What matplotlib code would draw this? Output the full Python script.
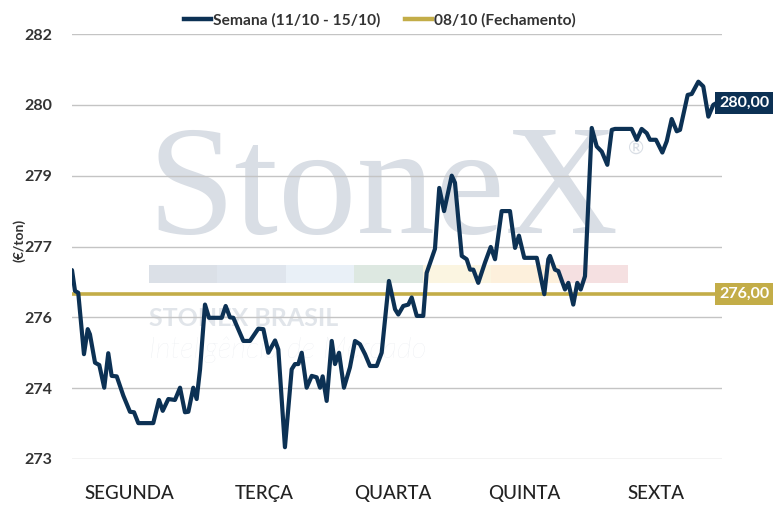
import matplotlib
matplotlib.use("Agg")
import matplotlib.pyplot as plt
from matplotlib.lines import Line2D
from matplotlib.patches import Rectangle
import matplotlib.transforms as mtransforms

plt.rcParams['font.family'] = ['Lato', 'DejaVu Sans']

# ---------------- data ----------------
days = ['SEGUNDA', 'TERÇA', 'QUARTA', 'QUINTA', 'SEXTA']
day_tick_pos = [0.44, 1.48, 2.47, 3.48, 4.49]

y_ticks = [273, 274.5, 276, 277.5, 279, 280.5, 282]
y_tick_labels = ['273', '274', '276', '277', '279', '280', '282']

# time in fractional days since Monday open
time = [0.00, 0.023, 0.048, 0.092, 0.121, 0.138, 0.177, 0.21, 0.248, 0.279,
        0.305, 0.344, 0.395, 0.446, 0.477, 0.51, 0.625, 0.669, 0.698, 0.741,
        0.792, 0.831, 0.869, 0.895, 0.933, 0.959, 0.985, 1.023, 1.054, 1.152,
        1.182, 1.215, 1.241,
        1.318, 1.369, 1.433, 1.472, 1.51, 1.562, 1.587, 1.638, 1.69, 1.715,
        1.741, 1.767, 1.805, 1.844, 1.882, 1.908, 1.928, 1.959, 1.998, 2.023,
        2.054, 2.092, 2.138, 2.177, 2.215, 2.254, 2.292, 2.344, 2.382, 2.438,
        2.485, 2.51, 2.548, 2.587, 2.613, 2.652, 2.702, 2.728, 2.792, 2.825,
        2.862, 2.921, 2.946, 2.998, 3.036, 3.062, 3.087, 3.125, 3.177, 3.221,
        3.254, 3.305, 3.369, 3.408, 3.438, 3.479, 3.575, 3.633, 3.664,
        3.677, 3.715, 3.741, 3.792, 3.818, 3.856, 3.887, 3.913, 3.946, 3.998,
        4.036, 4.075, 4.118, 4.152, 4.177, 4.305, 4.344, 4.382, 4.421, 4.446,
        4.492, 4.541, 4.575, 4.613, 4.652, 4.677, 4.736, 4.767, 4.818, 4.856,
        4.895, 4.933, 4.959]

price = [277.00, 276.56, 276.52, 275.22, 275.75, 275.64, 275.04, 274.99, 274.51, 275.24,
         274.76, 274.75, 274.34, 274.00, 273.99, 273.76, 273.76, 274.25, 274.02, 274.27,
         274.25, 274.51, 273.99, 274.00, 274.51, 274.27, 274.90, 276.27, 275.99, 275.99,
         276.24, 276.00, 275.99,
         275.50, 275.50, 275.76, 275.75, 275.25, 275.51, 275.32, 273.25, 274.90, 275.01,
         275.01, 275.25, 274.51, 274.76, 274.73, 274.51, 274.75, 274.23, 275.50, 275.01,
         275.25, 274.51, 274.94, 275.50, 275.43, 275.22, 274.97, 274.97, 275.25, 276.77,
         276.17, 276.06, 276.24, 276.27, 276.42, 276.03, 276.03, 276.94, 277.45, 278.74,
         278.25, 279.00, 278.85, 277.30, 277.23, 277.01, 277.01, 276.73, 277.16, 277.49,
         277.23, 278.25, 278.25, 277.47, 277.73, 277.26, 277.26, 276.49, 277.23,
         277.30, 277.01, 276.98, 276.59, 276.73, 276.27, 276.73, 276.59, 276.87, 280.01,
         279.62, 279.51, 279.23, 279.97, 279.99, 279.99, 279.76, 279.99, 279.90, 279.76,
         279.76, 279.49, 279.73, 280.20, 279.94, 279.97, 280.71, 280.73, 280.99, 280.89,
         280.25, 280.50, 280.54]

close_prev = 276.5
close_label = '276,00'
last_label = '280,00'
series_names = ['Semana (11/10 - 15/10)', '08/10 (Fechamento)']

NAVY = '#0c3154'
GOLD = '#c3ad48'

# ---------------- figure ----------------
W, H = 773, 513
fig = plt.figure(figsize=(W / 100, H / 100), dpi=100)
ax = fig.add_axes([72 / W, 1 - 459 / H, (722 - 72) / W, (459 - 34) / H])
ax.set_facecolor('none')
ax.set_zorder(2)

# watermark (decorative, behind the axes)
fig.text(147 / W, 1 - 233 / H, 'StoneX', fontsize=113, color='#d9dee5',
         family='Liberation Serif', ha='left', va='baseline', zorder=0)
fig.text(636 / W, 1 - 148 / H, '®', fontsize=14, color='#d9dee5', ha='center', va='center', zorder=0)
strip_cols = ['#dbe0e7', '#dfe5ed', '#e9f0f7', '#dde8e1', '#fbf5e1', '#fdf0dc', '#f5e0e1']
x0, sw = 149, 68.4
for i, c in enumerate(strip_cols):
    fig.patches.append(Rectangle(((x0 + i * sw) / W, 1 - 283 / H), sw / W, 18 / H,
                                 transform=fig.transFigure, facecolor=c, edgecolor='none', zorder=0))
fig.text(149 / W, 1 - 318 / H, 'STONEX BRASIL', fontsize=18, color='#e1e5ea',
         fontweight='bold', ha='left', va='center', zorder=0)
fig.text(149 / W, 1 - 350 / H, 'Inteligência de Mercado', fontsize=21, color='#e6e9ee',
         fontstyle='italic', fontweight='light', ha='left', va='center', zorder=0)

# data
ax.plot(time, price, color=NAVY, lw=3.0, solid_joinstyle='round', solid_capstyle='round', zorder=4)
ax.axhline(close_prev, xmin=0, xmax=(715 - 72) / (722 - 72), color=GOLD, lw=2.6, zorder=3)

ax.set_xlim(0, 5)
ax.set_ylim(273, 282)
ax.set_yticks(y_ticks)
ax.set_yticklabels(y_tick_labels)
ax.set_xticks(day_tick_pos)
ax.set_xticklabels(days)
ax.grid(axis='y', color='#c4c4c4', lw=1.0)
ax.set_axisbelow(True)
for s in ax.spines.values():
    s.set_visible(False)
ax.tick_params(axis='y', length=0, pad=14, labelsize=11.5, labelcolor='#333333')
ax.tick_params(axis='x', length=0, pad=19, labelsize=13.5, labelcolor='#222222')
for lab in ax.get_yticklabels():
    lab.set_fontweight('bold')
for lab in ax.get_xticklabels():
    lab.set_fontweight('medium')

fig.text(19 / W, 1 - 240 / H, '(€/ton)', rotation=90, fontsize=10, color='#333333',
         fontweight='bold', ha='center', va='center', zorder=5)

# value labels
tr = mtransforms.blended_transform_factory(fig.transFigure, ax.transData)
ax.text(719 / W, price[-1], last_label, transform=tr, ha='left', va='center', color='white',
        fontsize=11.5, fontweight='bold', clip_on=False, zorder=6,
        bbox=dict(boxstyle='square,pad=0.25', facecolor=NAVY, edgecolor='none'))
ax.text(719 / W, close_prev, close_label, transform=tr, ha='left', va='center', color='white',
        fontsize=11.5, fontweight='bold', clip_on=False, zorder=6,
        bbox=dict(boxstyle='square,pad=0.25', facecolor=GOLD, edgecolor='none'))

# legend
handles = [Line2D([], [], color=NAVY, lw=3.2), Line2D([], [], color=GOLD, lw=3.2)]
leg = fig.legend(handles, series_names, loc='center', bbox_to_anchor=(380 / W, 1 - 20 / H),
                 ncol=2, frameon=False, handlelength=1.7, handletextpad=0.15, columnspacing=1.6,
                 prop=dict(family=['Lato', 'DejaVu Sans'], size=11.2, weight='bold'),
                 labelcolor='#333333')
leg.set_zorder(5)

fig.savefig('out.png', dpi=100)
